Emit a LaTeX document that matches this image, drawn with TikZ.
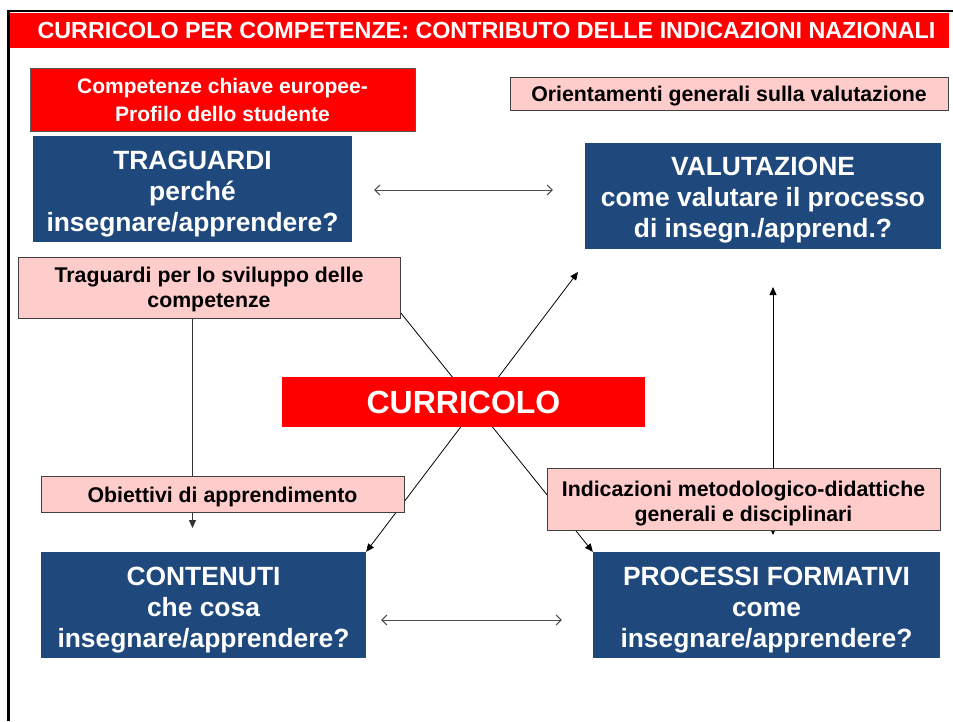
\documentclass[tikz,border=0pt]{standalone}
\usepackage{fontspec}
\setmainfont{Liberation Sans}
\usetikzlibrary{arrows.meta,calc}
\definecolor{bluebox}{RGB}{31,73,125}
\definecolor{pinkbox}{RGB}{255,204,204}
\definecolor{redbox}{RGB}{255,0,0}
\newcommand{\mystrut}[1]{\rule{0pt}{#1}}
\pgfdeclarelayer{back}
\pgfdeclarelayer{bg}
\pgfsetlayers{back,bg,main}
\tikzset{
  bbox/.style={fill=bluebox,text=white,align=center,inner sep=0pt,
    font=\fontsize{26.4}{31}\selectfont\bfseries},
  pbox/.style={fill=pinkbox,draw=black!75,line width=0.8pt,text=black,align=center,inner sep=0pt,
    font=\fontsize{21.3}{25}\selectfont\bfseries},
  rbox/.style={fill=redbox,text=white,align=center,inner sep=0pt},
  conn/.style={line width=0.8pt,draw=black},
  farr/.style={conn,-{Triangle[length=8pt,width=7pt]}},
  fdarr/.style={conn,{Triangle[length=8pt,width=7pt]}-{Triangle[length=8pt,width=7pt]}},
  harr/.style={line width=1pt,draw=black!70,{Straight Barb[length=5pt,width=10pt]}-{Straight Barb[length=5pt,width=10pt]}}
}
\begin{document}
\begin{tikzpicture}[x=1pt,y=-1pt]
\useasboundingbox (0,0) rectangle (953,721);
\begin{pgfonlayer}{back}
\fill[white] (0,0) rectangle (953,721);
\end{pgfonlayer}
% frame
\draw[line width=2.5pt] (8.5,721) -- (8.5,11) -- (953,11);
% title
\node[rbox,minimum width=939pt,minimum height=35.5pt,font=\fontsize{23.3}{27}\selectfont\bfseries] (title) at (479.5,30.5)
  {\hspace*{14pt}CURRICOLO PER COMPETENZE: CONTRIBUTO DELLE INDICAZIONI NAZIONALI};
% boxes
\node[rbox,draw=black!65,line width=0.8pt,minimum width=385pt,minimum height=63pt,
  font=\fontsize{21}{28}\selectfont\bfseries] (comp) at (222.5,99.5)
  {Competenze chiave europee-\\Profilo dello studente};
\node[pbox,minimum width=438pt,minimum height=33pt] (orient) at (729,93.5)
  {\mystrut{21.5pt}Orientamenti generali sulla valutazione};
\node[bbox,minimum width=319pt,minimum height=106pt] (trag) at (192.5,189)
  {\mystrut{28pt}TRAGUARDI\\perché\\insegnare/apprendere?};
\node[bbox,minimum width=356pt,minimum height=106pt] (val) at (763,196)
  {\mystrut{27pt}VALUTAZIONE\\come valutare il processo\\di insegn./apprend.?};
\node[pbox,minimum width=382pt,minimum height=61pt] (tsv) at (209,287.5)
  {\mystrut{20pt}Traguardi per lo sviluppo delle\\competenze};
\node[rbox,minimum width=363pt,minimum height=50pt,font=\fontsize{32}{36}\selectfont\bfseries] (curr) at (463.5,402)
  {CURRICOLO};
\node[pbox,minimum width=363pt,minimum height=36pt] (obj) at (222.5,494)
  {\mystrut{21.5pt}Obiettivi di apprendimento};
\node[pbox,minimum width=393pt,minimum height=62pt] (ind) at (743.5,499)
  {\mystrut{24pt}Indicazioni metodologico-didattiche\\generali e disciplinari};
\node[bbox,minimum width=325pt,minimum height=106pt] (cont) at (203.5,605)
  {\mystrut{28pt}CONTENUTI\\che cosa\\insegnare/apprendere?};
\node[bbox,minimum width=347pt,minimum height=106pt] (proc) at (766.5,605)
  {\mystrut{28pt}PROCESSI FORMATIVI\\come\\insegnare/apprendere?};
% free ends
\coordinate (vtip) at (578,272);
\coordinate (ltip) at (192.5,528);
\coordinate (rtop) at (773,287);
\coordinate (rbot) at (773,535);
% connectors
\begin{pgfonlayer}{bg}
\draw[farr] ([yshift=6pt]tsv.south east) -- (proc.north west);
\draw[fdarr] (cont.north east) -- (vtip);
\draw[farr,draw=black!80] (trag.south |- tsv.south) -- (ltip);
\draw[fdarr] (rbot) -- (rtop);
\draw[harr,shorten <=22pt,shorten >=32pt] ([yshift=-1pt]trag.east) -- ([yshift=-1pt]trag.east -| val.west);
\draw[harr,shorten <=15pt,shorten >=31pt] ([yshift=-15pt]cont.east) -- ([yshift=-15pt]cont.east -| proc.west);
\end{pgfonlayer}
\end{tikzpicture}
\end{document}
